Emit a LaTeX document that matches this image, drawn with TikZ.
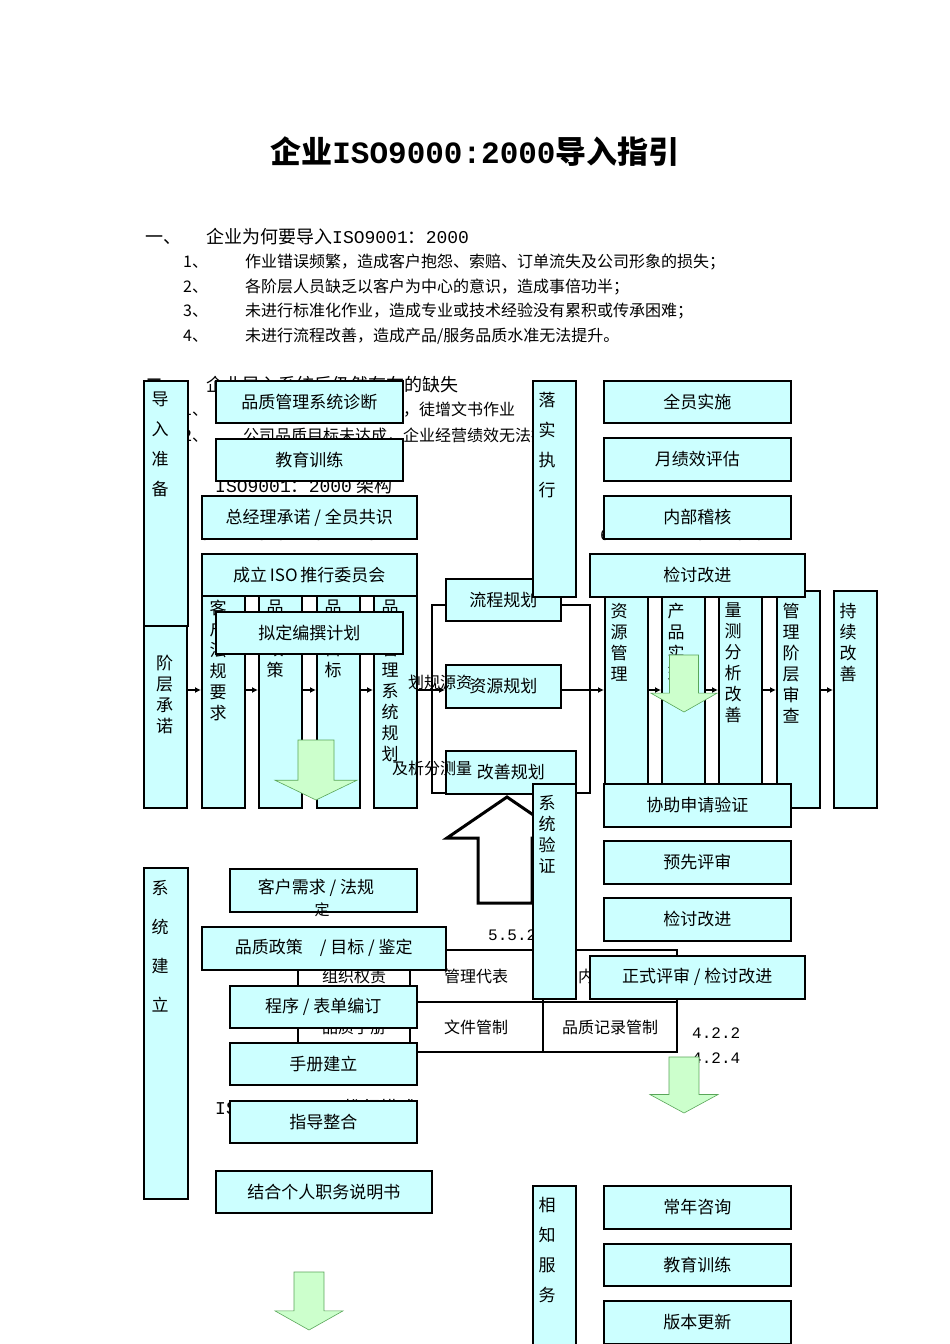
\documentclass[tikz,border=0pt]{standalone}
\usepackage{fontspec}
\setmainfont{Noto Sans CJK SC}
\newfontfamily\mono{Liberation Mono}
\usetikzlibrary{arrows.meta}
\definecolor{cy}{HTML}{CCFFFF}
\definecolor{gr}{HTML}{CCFFCC}
\tikzset{cbox/.style={draw,fill=cy,line width=1.6pt,inner sep=0pt,anchor=north west,font=\fontsize{17}{20}\selectfont},
 vt/.style={font=\fontsize{17}{21}\selectfont,align=center,anchor=north,inner sep=0pt},
 btxt/.style={anchor=west,inner sep=0pt,font=\fontsize{16}{18}\selectfont},
 arr/.style={line width=1.2pt,-{Latex[length=6pt,width=6pt]}},
 ln/.style={line width=1.2pt},
 garr/.style={fill=gr,draw=gray!70!green,line width=0.6pt}}
\newcommand{\bx}[6]{\node[cbox,minimum width={#4-#2},minimum height={#5-#3}] (#1) at (#2,#3) {#6};}
\newcommand{\garrow}[4]{\draw[garr] ({#1-#3*0.22},#2) -- ({#1+#3*0.22},#2) -- ({#1+#3*0.22},{#2+#4*0.67}) -- ({#1+#3*0.5},{#2+#4*0.67}) -- (#1,{#2+#4}) -- ({#1-#3*0.5},{#2+#4*0.67}) -- ({#1-#3*0.22},{#2+#4*0.67}) -- cycle;}
\begin{document}
\begin{tikzpicture}[x=1pt,y=-1pt]
\useasboundingbox (0,0) rectangle (950,1344);
\fill[white] (0,0) rectangle (950,1344);
% title
\node[font=\fontsize{31}{34}\selectfont\bfseries] (title) at (475,152) {企业{\mono\bfseries ISO9000:2000}导入指引};
\node[btxt,font=\fontsize{18}{20}\selectfont] (s1) at (145,237) {一、\hspace{25pt}企业为何要导入{\mono ISO9001}：{\mono 2000}};
\foreach \n/\y/\t in {1/262/{作业错误频繁，造成客户抱怨、索赔、订单流失及公司形象的损失；},2/287/{各阶层人员缺乏以客户为中心的意识，造成事倍功半；},3/311/{未进行标准化作业，造成专业或技术经验没有累积或传承困难；},4/336/{未进行流程改善，造成产品/服务品质水准无法提升。}}{
 \node[btxt] (n\n) at (183,\y) {\n、};
 \node[btxt] (t\n) at (245,\y) {\t};}
\node[btxt,font=\fontsize{18}{20}\selectfont] (s2) at (145,385) {二、\hspace{25pt}企业导入系统后仍然存在的缺失};
\node[btxt] (u1) at (183,410) {1、\hspace{35pt}品质管理系统流于形式，徒增文书作业};
\node[btxt] (u2) at (183,436) {2、\hspace{35pt}公司品质目标未达成，企业经营绩效无法提升};
\node[btxt,font=\fontsize{18}{20}\selectfont] (s3) at (215,486) {{\mono ISO9001}：{\mono 2000} 架构};
\node[btxt,font=\mono\fontsize{16}{18}\selectfont] (nums) at (200,535) {5.2\hspace{28pt}5.3\hspace{28pt}5.4.1\hspace{5pt}5.4.2};
\node[btxt,font=\mono\fontsize{16}{18}\selectfont] (nums2) at (600,535) {6\hspace{38pt}7\hspace{38pt}8\hspace{30pt}5.6};
% column boxes
\bx{c1}{143}{590}{186}{807}{}
\node[vt] (ct1) at (164.5,655) {阶\\层\\承\\诺};
\foreach \i/\x/\t in {2/201/客\\户\\法\\规\\要\\求,3/258/品\\质\\政\\策,4/316/品\\质\\目\\标,5/373/品\\质\\管\\理\\系\\统\\规\\划}{
 \bx{c\i}{\x}{590}{\x+43}{807}{}
 \node[vt] (ct\i) at (\x+17,600) {\t};}
\foreach \i/\x/\t in {1/604/资\\源\\管\\理,2/661/产\\品\\实\\现,3/718/量\\测\\分\\析\\改\\善,4/776/管\\理\\阶\\层\\审\\查,5/833/持\\续\\改\\善}{
 \bx{r\i}{\x}{590}{\x+43}{807}{}
 \node[vt] (rt\i) at (\x+15,603) {\t};}
% middle
\bx{m1}{445}{578}{560}{620}{流程规划}
\bx{m2}{445}{664}{560}{707}{资源规划}
\bx{m3}{445}{750}{575}{793}{改善规划}
\node[btxt] (mt2) at (408,682) {划规源资};
\node[btxt] (mt3) at (392,768) {及析分测量};
\coordinate (yl) at (0,690);
\foreach \a/\b in {c1/c2,c2/c3,c3/c4,c4/c5,r1/r2,r2/r3,r3/r4,r4/r5}{\draw[arr] (\a.east|-yl) -- (\b.west|-yl);}
\coordinate (bl1) at (432,605); \coordinate (bl2) at (432,793);
\coordinate (br1) at (590,605); \coordinate (br2) at (590,793);
\draw[ln] (c5.east|-yl) -- (bl1|-yl);
\draw[ln] (m1.west|-bl1) -- (bl1) -- (bl2) -- (m3.west|-bl2);
\draw[arr] (bl1|-yl) -- (m2.west|-yl);
\draw[ln] (m1.east|-br1) -- (br1) -- (br2) -- (m3.east|-br2);
\draw[ln] (m2.east|-yl) -- (br1|-yl);
\draw[arr] (br1|-yl) -- (r1.west|-yl);
% table
\node[btxt,font=\mono\fontsize{16}{18}\selectfont] (n552) at (488,935) {5.5.2};
\node[btxt,font=\mono\fontsize{16}{18}\selectfont] (n422) at (692,1033) {4.2.2};
\node[btxt,font=\mono\fontsize{16}{18}\selectfont] (n424) at (692,1058) {4.2.4};
\node[btxt,font=\fontsize{18}{20}\selectfont] (s4) at (215,1108) {{\mono ISO9001:2000}推行模式};
\draw[ln] (298,950) rectangle (677,1052);
\draw[ln] (298,1002) -- (677,1002);
\draw[ln] (410,950) -- (410,1052) (543,950) -- (543,1052);
\node (tb1) at (354,976) {\fontsize{16}{18}\selectfont 组织权责};
\node (tb2) at (476,976) {\fontsize{16}{18}\selectfont 管理代表};
\node (tb3) at (610,976) {\fontsize{16}{18}\selectfont 内部沟通};
\node (tb4) at (354,1027) {\fontsize{16}{18}\selectfont 品质手册};
\node (tb5) at (476,1027) {\fontsize{16}{18}\selectfont 文件管制};
\node (tb6) at (610,1027) {\fontsize{16}{18}\selectfont 品质记录管制};
% big up arrow
\draw[line width=3pt,fill=white] (447,838) -- (507,797) -- (567,838) -- (532,838) -- (532,903) -- (478,903) -- (478,838) -- cycle;
% left overlays
\bx{g1}{143}{380}{187}{625}{}
\node[vt,font=\fontsize{17}{30}\selectfont] (g1t) at (160,392) {导\\入\\准\\备};
\bx{a1}{215}{380}{402}{422}{品质管理系统诊断}
\bx{a2}{215}{438}{402}{480}{教育训练}
\bx{a3}{201}{495}{416}{538}{总经理承诺 / 全员共识}
\bx{a4}{201}{553}{416}{595}{成立\,ISO\,推行委员会}
\bx{a5}{215}{611}{402}{653}{拟定编撰计划}
\garrow{316}{740}{82}{60}
% middle overlays
\bx{g2}{532}{380}{575}{596}{}
\node[vt,font=\fontsize{17}{30}\selectfont] (g2t) at (547,392) {落\\实\\执\\行};
\bx{b1}{603}{380}{790}{422}{全员实施}
\bx{b2}{603}{437}{790}{480}{月绩效评估}
\bx{b3}{603}{495}{790}{538}{内部稽核}
\bx{b4}{589}{553}{804}{596}{检讨改进}
\garrow{684}{655}{66}{57}
\bx{g3}{532}{783}{575}{998}{}
\node[vt,font=\fontsize{17}{21}\selectfont] (g3t) at (547,795) {系\\统\\验\\证};
\bx{d1}{603}{783}{790}{826}{协助申请验证}
\bx{d2}{603}{840}{790}{883}{预先评审}
\bx{d3}{603}{897}{790}{940}{检讨改进}
\bx{d4}{589}{955}{804}{998}{正式评审 / 检讨改进}
\garrow{684}{1057}{68}{56}
% system build
\bx{g4}{143}{867}{187}{1198}{}
\node[vt,font=\fontsize{17}{39}\selectfont] (g4t) at (160,880) {系\\统\\建\\立};
\bx{e1}{229}{868}{416}{911}{}
\node (e1t) at (316,888) {\fontsize{17}{20}\selectfont 客户需求 / 法规};
\node (e1u) at (322,910) {\fontsize{15}{18}\selectfont 定};
\bx{e2}{201}{926}{445}{969}{品质政策\quad / 目标 / 鉴定}
\bx{e3}{229}{985}{416}{1027}{程序 / 表单编订}
\bx{e4}{229}{1042}{416}{1084}{手册建立}
\bx{e5}{229}{1100}{416}{1142}{指导整合}
\bx{e6}{215}{1170}{431}{1212}{结合个人职务说明书}
\garrow{309}{1272}{68}{58}
% service
\bx{g5}{532}{1185}{575}{1350}{}
\node[vt,font=\fontsize{17}{30}\selectfont] (g5t) at (547,1197) {相\\知\\服\\务};
\bx{f1}{603}{1185}{790}{1228}{常年咨询}
\bx{f2}{603}{1243}{790}{1285}{教育训练}
\bx{f3}{603}{1300}{790}{1343}{版本更新}
\end{tikzpicture}
\end{document}
